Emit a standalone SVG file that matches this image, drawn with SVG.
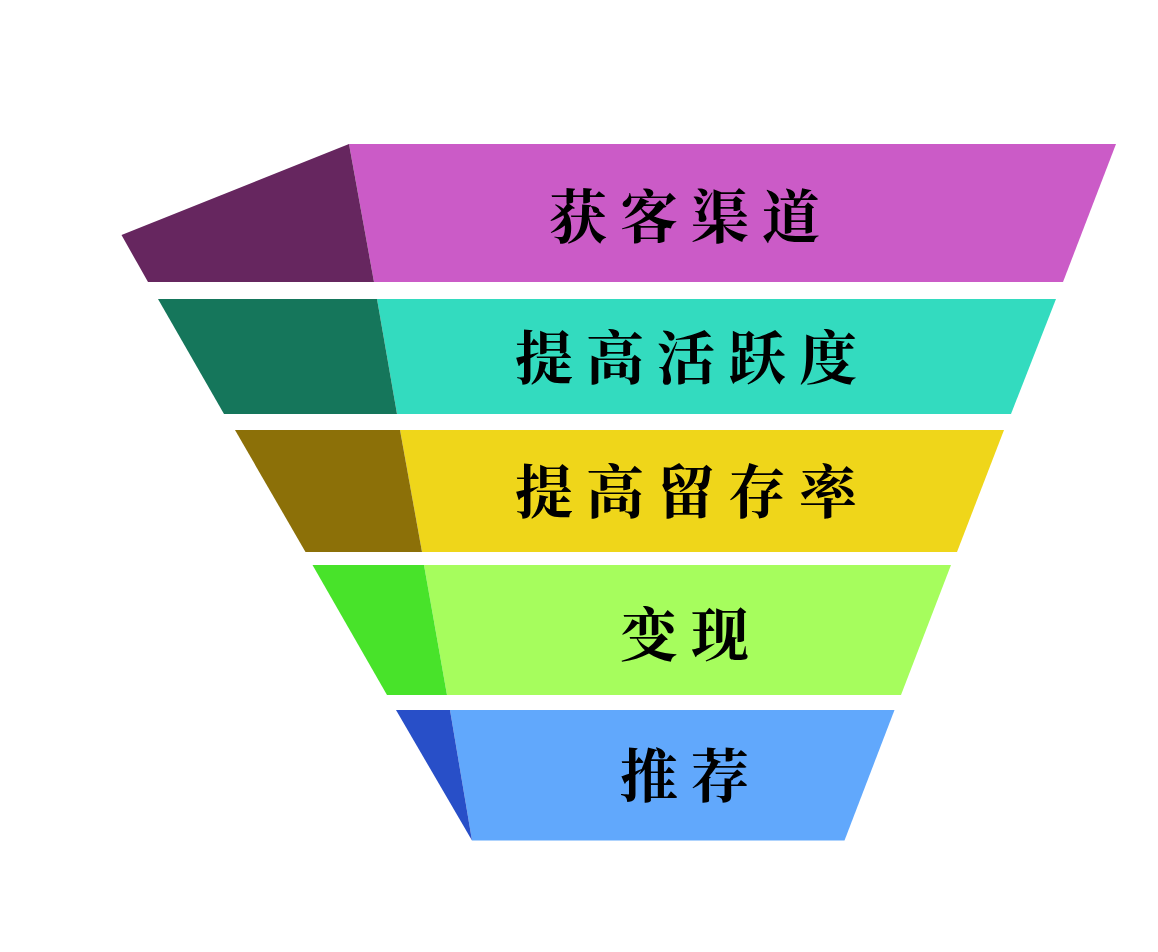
<svg xmlns="http://www.w3.org/2000/svg" width="1158" height="952" viewBox="0 0 1158 952">
<style>
.lbl{font-family:"Noto Serif CJK SC","Noto Sans CJK SC",serif;font-weight:bold;font-size:58px;letter-spacing:13px;fill:#000;}
</style>
<rect width="1158" height="952" fill="#fff"/>
<g id="stage1">
<polygon points="349,144 1116,144 1063,282 374,282" fill="#cb5bc7"/>
<polygon points="121.5,235 349,144 374,282 148,282" fill="#66265f"/>
<text class="lbl" x="549" y="238">获客渠道</text>
</g>
<g id="stage2">
<polygon points="377,299 1056,299 1011,414 397,414" fill="#33dbbf"/>
<polygon points="158,299 377,299 397,414 224,414" fill="#15765b"/>
<text class="lbl" x="515" y="379">提高活跃度</text>
</g>
<g id="stage3">
<polygon points="400,430 1004,430 957,552 422,552" fill="#efd61a"/>
<polygon points="235,430 400,430 422,552 305.5,552" fill="#8c7008"/>
<text class="lbl" x="515" y="513">提高留存率</text>
</g>
<g id="stage4">
<polygon points="424,565 951,565 901,695 447,695" fill="#a6fd5d"/>
<polygon points="312.5,565 424,565 447,695 387,695" fill="#48e32a"/>
<text class="lbl" x="620" y="656">变现</text>
</g>
<g id="stage5">
<polygon points="450,710 894.5,710 844.5,840.5 472,840.5" fill="#61a8fc"/>
<polygon points="396,710 450,710 472,840.5" fill="#284fc8"/>
<text class="lbl" x="620" y="797">推荐</text>
</g>
<g id="connectors"/>
</svg>
